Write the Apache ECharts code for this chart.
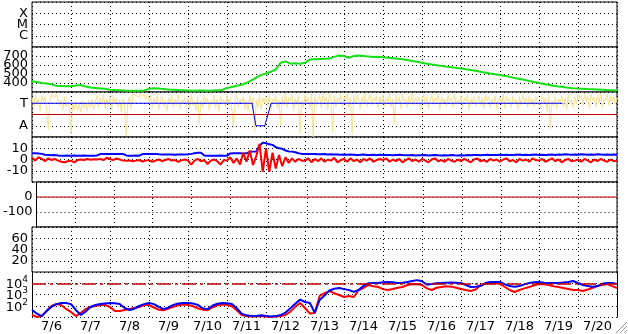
<!DOCTYPE html>
<html><head><meta charset="utf-8">
<script src="https://cdn.jsdelivr.net/npm/echarts@6/dist/echarts.min.js"></script>
<style>html,body{margin:0;padding:0;background:#fff}#c{width:628px;height:334px}</style>
</head><body><div id="c"></div>
<script>
// ---- data (time axis: days since 7/6 00:00) ----
const dayLabels = ['7/6','7/7','7/8','7/9','7/10','7/11','7/12','7/13','7/14','7/15','7/16','7/17','7/18','7/19','7/20'];
const flareLabels = {1:'C', 2:'M', 3:'X'};
const imfLabels = {1:'T', '-1':'A'};

// solar wind speed, 3-hour steps
const speedStep = 1/8;
const speed = [
 420,410,400,395,385,370,368,365,
 365,372,378,360,350,345,340,335,
 325,322,320,316,315,314,315,318,
 335,342,338,332,328,325,322,320,
 318,315,316,318,314,316,320,322,
 345,355,370,380,400,430,460,490,
 505,525,550,625,640,615,620,615,
 625,660,665,668,670,672,690,705,
 700,680,700,705,700,695,690,692,
 685,680,675,670,665,655,645,635,
 625,615,605,598,590,582,575,568,
 560,552,545,535,525,515,505,498,
 490,480,468,455,445,435,422,410,
 400,390,380,370,362,355,348,342,
 338,335,332,330,328,325,322,320,318
];

// IMF direction raw (pale yellow), 1-hour steps, T=+1, A=-1
const dirStep = 1/24;
const dirRaw = [
 1.5,0.6,1.8,0.9,1.4,0.3,1.7,1.1,1.6,0.5,-1.4,1.2,1.8,1.9,1.5,1.8,1.7,0.8,1.3,0.4,1.6,0.7,1.2,0.5,
 -1.8,1.0,0.4,1.1,0.3,0.9,0.2,1.2,0.5,1.0,0.3,1.3,0.6,1.4,0.4,1.1,1.7,0.6,1.5,0.9,1.8,0.5,1.4,0.8,
 1.6,0.4,1.7,1.0,1.5,0.6,1.3,0.2,1.4,0.7,-1.9,1.1,1.6,0.5,1.8,1.9,1.7,1.8,1.5,1.9,1.6,1.8,1.3,1.7,
 1.1,1.7,0.6,1.5,0.9,1.8,0.4,1.3,1.6,0.7,1.2,0.3,1.5,1.0,1.7,0.6,1.4,0.8,1.8,0.5,1.3,1.0,1.6,0.7,
 1.4,0.5,1.8,0.8,1.2,0.3,1.6,-0.9,1.3,0.6,1.7,1.0,1.5,0.4,1.2,0.9,1.8,0.6,1.4,0.3,1.6,1.1,1.3,0.7,
 1.7,0.8,1.5,0.4,-1.2,1.3,1.8,0.6,1.4,1.0,1.6,0.5,1.2,0.3,1.7,0.9,1.5,-1.5,1.3,0.6,1.8,0.4,1.5,1.0,
 1.6,0.7,1.8,0.3,1.4,1.1,1.7,0.5,1.3,-1.0,1.6,0.8,1.9,0.6,1.5,1.2,1.8,0.4,1.4,0.9,1.7,-1.7,1.3,0.6,
 1.8,1.0,1.5,0.5,1.9,-2.0,1.6,0.8,1.4,1.7,0.6,1.8,1.2,1.5,0.4,1.9,1.3,-1.6,1.7,0.7,1.5,1.1,1.8,0.6,
 1.6,1.2,1.9,0.6,1.5,-1.8,1.7,0.9,1.8,1.3,0.5,1.6,1.0,1.9,0.7,1.4,1.8,0.8,1.5,1.2,1.7,0.5,1.6,1.0,
 1.8,0.7,1.5,1.1,1.9,0.6,1.4,-0.8,1.7,1.0,1.6,0.5,1.8,1.2,1.4,0.6,1.7,0.9,1.9,0.8,1.5,1.1,1.6,0.4,
 1.4,1.8,0.8,1.6,0.5,1.3,1.7,0.9,1.5,1.2,1.8,0.4,1.6,1.0,1.4,0.7,1.7,1.1,1.5,0.6,1.8,0.9,1.3,1.0,
 1.7,0.6,1.5,1.1,1.8,0.4,1.4,1.0,1.6,0.7,1.3,1.7,0.8,1.5,0.5,1.8,1.2,1.6,0.6,1.4,0.9,1.7,0.5,1.3,
 1.5,0.9,1.8,0.5,1.6,1.2,1.4,0.6,1.7,1.0,1.3,0.4,1.6,0.8,1.8,1.1,1.5,0.6,1.7,0.9,1.4,0.7,1.6,1.2,
 1.3,0.6,1.7,1.0,1.5,0.3,1.8,-1.3,1.2,0.8,1.6,0.5,1.4,1.1,1.7,0.7,1.5,0.4,1.8,1.0,1.3,0.6,1.6,0.9,
 1.8,1.4,1.7,0.8,1.9,1.2,1.6,0.5,1.8,1.3,1.5,0.7,1.7,1.0,1.9,0.6,1.4,1.2,1.8,0.8,1.6,1.1,1.7,0.9,1.5
];
// IMF sector (blue step line)
const sectorT = [0, 5.64, 5.74, 5.97, 6.13, 13.6];
const sectorV = [1, 1, -1, -1, 1, 1];

// IMF Bt (blue) and Bz (red), 2-hour steps
const bStep = 1/12;
const bt = [
 5.5,5.6,5.3,5.0,4.2,4.0,3.8,4.0,3.5,3.4,3.4,3.5,
 3.4,3.5,3.3,3.4,3.5,3.4,3.3,3.4,3.6,4.8,4.9,5.0,
 4.9,5.0,4.8,4.9,5.0,3.6,3.4,3.4,3.5,3.4,4.8,5.0,
 5.0,4.9,5.0,4.6,4.5,4.4,4.5,4.4,4.3,4.5,4.4,4.5,
 4.6,5.0,5.5,6.0,6.0,3.5,3.4,3.3,3.4,3.4,3.5,3.4,
 3.4,5.4,5.5,5.6,5.5,5.4,5.5,6.8,7.0,7.2,12,15,
 14.5,13.5,13.0,11,10,9.5,8,7.2,7.0,6.5,5.5,5.0,
 5.0,4.8,5.0,4.9,4.7,4.6,4.8,4.5,4.6,4.4,4.5,4.3,
 4.4,4.2,4.5,4.3,4.1,4.2,4.4,4.0,4.1,4.3,4.0,4.2,
 4.0,3.9,4.1,3.8,4.0,4.2,3.9,3.7,3.8,4.0,3.6,3.8,
 3.7,3.9,3.6,3.8,4.0,3.7,3.5,3.8,3.6,3.9,3.7,3.6,
 3.8,3.6,4.0,3.7,3.9,4.1,3.8,4.0,4.2,3.9,4.1,4.0,
 4.2,4.0,4.3,4.1,3.9,4.2,4.4,4.1,4.3,4.0,4.2,4.4,
 4.1,4.3,4.0,4.2,4.4,4.1,4.5,4.3,4.6,4.4,4.2,4.5,
 4.3,4.6,4.4,4.2,4.5,4.3,4.6,4.4,4.2,4.5,4.3,4.4,4.3
];
const bz = [
 1.5,-1.0,2.0,0.5,-1.5,1.0,-0.5,0.5,-1.0,-2.0,-2.5,-1.5,
 -1.0,-2.5,-0.5,0.0,-0.5,0.5,-0.3,0.2,0.0,0.5,-0.5,1.5,
 0.5,-0.5,1.0,0.0,-1.0,-1.2,-0.8,-1.5,-1.0,-0.5,-1.8,-1.0,
 -0.5,-2.0,-1.0,0.0,-1.5,-0.5,0.5,-1.0,-0.5,-2.0,-0.8,0.0,
 -1.0,-4.5,-1.0,0.5,-1.5,-0.5,-4.0,-1.0,0.0,-1.5,-4.5,-0.5,
 -1.0,2.0,-3.0,1.0,-4.5,6.0,-2.0,8.0,-5.0,3.0,14.0,-11.0,
 10.0,-11.0,6.0,-8.0,4.0,-6.0,2.0,-3.0,1.0,-2.0,0.5,-1.0,
 -1.0,1.0,-2.5,0.5,-1.5,1.0,-2.0,0.0,-1.0,1.5,-2.5,-0.5,
 0.5,-2.0,1.0,-1.5,0.0,-2.5,0.5,-1.0,1.0,-2.0,-0.5,0.5,
 -0.5,1.0,-2.0,0.0,-1.5,0.5,-2.5,-0.5,1.0,-1.5,0.0,-2.0,
 0.5,-1.0,-2.5,0.0,1.0,-1.5,-0.5,-2.0,0.5,-1.0,-2.0,0.0,
 -1.5,0.5,-1.0,-2.5,0.0,1.0,-1.5,-0.5,-2.0,0.5,-1.0,0.0,
 -2.0,0.0,1.0,-1.5,-0.5,-2.5,0.5,-1.0,0.0,-2.0,1.0,-0.5,
 -1.0,0.5,-2.0,-0.5,1.0,-1.5,0.0,-2.5,-0.5,0.5,-1.5,-1.0,
 0.0,-2.0,0.5,-1.0,-2.5,0.0,-1.5,0.5,-1.0,-2.0,0.0,-1.5,-1.0
];

// Dst reference level
const dstRef = 0;

// electron flux (log), 3-hour steps
const eStep = 1/8;
const eBlue = [
 42,20,12,35,80,140,176,176,
 140,42,15,30,77,116,143,160,
 176,170,143,63,42,55,95,140,
 176,140,80,50,70,120,160,176,
 176,160,120,60,50,100,150,176,
 170,140,60,20,14,12,12,14,
 12,11,12,15,25,60,150,350,
 215,176,23,325,800,2300,3200,3800,
 3000,2500,1700,2500,6000,10000,10500,10500,
 12000,12900,12000,10500,11000,12900,16000,19000,
 15000,7500,8600,10000,10500,11000,11500,11000,
 10500,7000,4650,5000,5600,10500,12900,12900,
 12900,8000,5600,5000,5600,8000,10500,12000,
 12900,11000,10500,10500,10500,11500,12900,15800,
 10500,7000,5600,5000,5600,9000,10500,10500,8600
];
const eRed = [
 15,10,12,34,95,143,116,52,
 28,12,23,52,77,95,116,116,
 77,34,34,42,52,63,77,116,
 116,70,45,40,55,80,110,130,
 120,90,60,45,40,70,110,130,
 120,90,40,15,12,11,11,12,
 11,10,11,12,15,30,80,176,
 63,20,23,740,1300,2000,1300,900,
 600,740,600,2500,3800,7000,5500,4600,
 3000,2500,3100,4000,4650,7000,8600,8000,
 7000,3500,2500,4000,4650,5500,5000,4000,
 3100,2500,2050,2800,7000,9000,10500,10000,
 8600,4650,2500,1670,2500,3500,4650,6500,
 8600,8000,7000,5500,4650,3800,3100,2500,
 2500,2050,2800,4000,5600,7000,8600,5500,3800
];
const eRef = 10000;

// ---- chart ----
const FONT = 'DejaVu Sans';
const toXY = (arr, step) => arr.map((v, i) => [i * step, v]);
const dotted = {color:'#000', width:1, type:[1,3]};
const labelBase = {color:'#000', fontFamily:FONT, fontSize:13, margin:4};
const black = {show:true, lineStyle:{color:'#000', width:1}};

const grids = [], xAxes = [], yAxes = [];
for (let i = 0; i < 7; i++) {
  grids.push({left:32, right:11, top:2 + 45 * i, height:45, show:i < 6, borderColor:'#000', borderWidth:1, backgroundColor:'#fff'});
  xAxes.push({type:'value', gridIndex:i, min:0, max:15, interval:1,
    axisLabel:{show:false}, axisLine:{show:false}, axisTick:{show:false},
    splitLine:{show:true, lineStyle:dotted}});
}
xAxes.push({type:'category', gridIndex:6, data:dayLabels, boundaryGap:true, position:'bottom',
  axisLine:{show:false}, axisTick:{show:false}, splitLine:{show:false},
  axisLabel:Object.assign({}, labelBase, {margin:3, interval:0})});

function yAx(i, o) {
  return Object.assign({gridIndex:i, axisLine:{show:false}, axisTick:{show:false},
    splitLine:{show:true, lineStyle:dotted}, axisLabel:Object.assign({}, labelBase)}, o);
}
yAxes.push(yAx(0, {type:'value', min:0, max:4, interval:1,
  axisLabel:Object.assign({}, labelBase, {formatter:v => flareLabels[v] || ''})}));
yAxes.push(yAx(1, {type:'value', min:300, max:800, interval:100,
  axisLabel:Object.assign({}, labelBase, {formatter:v => (v > 300 && v < 800) ? String(v) : ''})}));
yAxes.push(yAx(2, {type:'value', min:-2, max:2, interval:1,
  axisLabel:Object.assign({}, labelBase, {formatter:v => imfLabels[v] || ''})}));
yAxes.push(yAx(3, {type:'value', min:-20, max:20, interval:10,
  axisLabel:Object.assign({}, labelBase, {formatter:v => (Math.abs(v) < 20) ? String(v) : ''})}));
yAxes.push(yAx(4, {type:'value', min:-200, max:100, interval:100,
  axisLabel:Object.assign({}, labelBase, {formatter:v => (v === 0 || v === -100) ? String(v) : ''})}));
yAxes.push(yAx(5, {type:'value', min:0, max:80, interval:20,
  axisLabel:Object.assign({}, labelBase, {formatter:v => (v > 0 && v < 80) ? String(v) : ''})}));
yAxes.push(yAx(6, {type:'log', logBase:10, min:10, max:100000, axisLine:black,
  axisLabel:Object.assign({}, labelBase, {
    formatter:v => { const e = Math.round(Math.log10(v)); return (e >= 2 && e <= 4) ? '{b|10}{s|' + e + '}' : ''; },
    rich:{b:{fontFamily:FONT, fontSize:13, color:'#000', lineHeight:16, verticalAlign:'bottom'},
          s:{fontFamily:FONT, fontSize:9, color:'#000', lineHeight:9, verticalAlign:'top'}}})}));
// right border of the bottom panel
yAxes.push({type:'value', gridIndex:6, position:'right', min:0, max:1, axisLine:black,
  axisTick:{show:false}, axisLabel:{show:false}, splitLine:{show:false}});

const line = (xi, yi, data, color, width, extra) => Object.assign({type:'line', xAxisIndex:xi, yAxisIndex:yi, data,
  showSymbol:false, symbol:'none', lineStyle:{color, width}, silent:true, animation:false}, extra || {});
const hLine = (val, color, type, width) => ({symbol:['none','none'], silent:true, animation:false,
  label:{show:false}, lineStyle:{color, type, width}, data:[{yAxis:val}]});

const series = [
  line(1, 1, toXY(speed, speedStep), '#16e016', 2),
  line(2, 2, toXY(dirRaw, dirStep), '#f6e39c', 1.1, {markLine:hLine(0, '#c00000', 'solid', 1), z:1}),
  line(2, 2, sectorT.map((t, i) => [t, sectorV[i]]), '#0000ff', 1, {z:3}),
  line(3, 3, toXY(bt, bStep), '#0000ff', 2),
  line(3, 3, toXY(bz, bStep), '#ff0000', 2),
  line(4, 4, [[0, dstRef], [15, dstRef]], '#c00000', 1),
  line(6, 6, toXY(eRed, eStep), '#ff0000', 2, {markLine:hLine(eRef, '#c00000', [14,4,3,4], 1.5)}),
  line(6, 6, toXY(eBlue, eStep), '#0000ff', 2)
];

// window resize grip (screenshot artefact, bottom-right)
const grip = [0, 4, 8].map(d => ({type:'line', shape:{x1:616 + d, y1:333, x2:627, y2:322 + d},
  style:{stroke:'#999', lineWidth:1}, silent:true}));

const chart = echarts.init(document.getElementById('c'), null, {renderer:'canvas'});
chart.setOption({animation:false, backgroundColor:'#fff', grid:grids, xAxis:xAxes, yAxis:yAxes, series, graphic:grip});
</script></body></html>
